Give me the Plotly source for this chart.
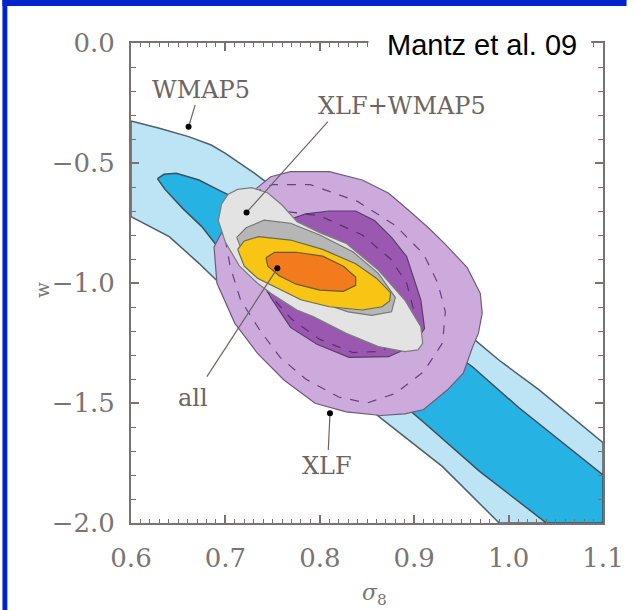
import plotly.graph_objects as go

# ---------------- data ----------------
# WMAP5 95% (light blue) and 68% (dark blue) regions
wmap95_x = [0.600, 0.630, 0.661, 0.685, 0.700, 0.731, 0.962, 0.990, 1.032, 1.100,
            1.100, 0.990, 0.930, 0.865, 0.700, 0.672, 0.6405, 0.600]
wmap95_y = [-0.325, -0.355, -0.390, -0.425, -0.460, -0.543, -1.230, -1.322, -1.444, -1.665,
            -2.000, -2.000, -1.765, -1.564, -1.025, -0.918, -0.807, -0.724]
wmap68_x = [0.628, 0.635, 0.648, 0.672, 0.6925, 0.720, 0.962, 1.011, 1.100,
            1.100, 1.040, 0.969, 0.910, 0.700, 0.689, 0.675, 0.655, 0.636]
wmap68_y = [-0.565, -0.547, -0.543, -0.571, -0.612, -0.665, -1.350, -1.520, -1.800,
            -2.000, -2.000, -1.784, -1.580, -0.880, -0.835, -0.765, -0.690, -0.610]

# XLF 95% (light purple) and 68% (dark purple)
xlf95_x = [0.731, 0.748, 0.769, 0.810, 0.845, 0.873, 0.895, 0.915, 0.932, 0.956, 0.970,
           0.972, 0.968, 0.962, 0.952, 0.935, 0.910, 0.890, 0.865, 0.828, 0.795, 0.762,
           0.734, 0.710, 0.691, 0.688, 0.700, 0.715]
xlf95_y = [-0.612, -0.557, -0.536, -0.536, -0.571, -0.626, -0.700, -0.770, -0.835, -0.935, -1.043,
           -1.126, -1.210, -1.265, -1.376, -1.446, -1.527, -1.545, -1.552, -1.537, -1.501, -1.404,
           -1.293, -1.168, -1.000, -0.850, -0.760, -0.670]
xlf68_x = [0.730, 0.745, 0.765, 0.785, 0.810, 0.838, 0.858, 0.876, 0.892, 0.907, 0.911,
           0.897, 0.873, 0.831, 0.797, 0.769, 0.748, 0.735, 0.728]
xlf68_y = [-0.860, -0.780, -0.740, -0.712, -0.700, -0.700, -0.740, -0.810, -0.890, -1.070, -1.190,
           -1.265, -1.307, -1.310, -1.255, -1.185, -1.060, -0.950, -0.870]

# dashed contours inside the XLF regions
dash_in_x = [0.730, 0.760, 0.800, 0.845, 0.875, 0.892, 0.900, 0.890, 0.865, 0.835, 0.800,
             0.770, 0.745, 0.728, 0.725, 0.730]
dash_in_y = [-0.740, -0.700, -0.720, -0.800, -0.900, -1.000, -1.120, -1.220, -1.285, -1.290, -1.235,
             -1.150, -1.040, -0.920, -0.810, -0.740]
dash_out_x = [0.700, 0.720, 0.750, 0.790, 0.840, 0.880, 0.910, 0.925, 0.933, 0.930, 0.910,
              0.880, 0.850, 0.820, 0.785, 0.758, 0.737, 0.716, 0.705, 0.700, 0.700]
dash_out_y = [-0.720, -0.640, -0.590, -0.590, -0.660, -0.760, -0.880, -1.000, -1.120, -1.250, -1.370,
              -1.460, -1.500, -1.475, -1.400, -1.310, -1.200, -1.070, -0.930, -0.820, -0.720]

# XLF+WMAP5 95% (light grey) and 68% (mid grey)
xw95_x = [0.6925, 0.696, 0.703, 0.713, 0.728, 0.745, 0.760, 0.776, 0.800, 0.828, 0.862, 0.890,
          0.907, 0.909, 0.904, 0.890, 0.862, 0.828, 0.793, 0.7757, 0.748, 0.734, 0.715, 0.700]
xw95_y = [-0.740, -0.670, -0.630, -0.610, -0.603, -0.625, -0.675, -0.745, -0.790, -0.835, -0.946, -1.071,
          -1.182, -1.251, -1.279, -1.286, -1.265, -1.210, -1.140, -1.1125, -1.043, -1.001, -0.930, -0.830]
xw68_x = [0.712, 0.722, 0.741, 0.769, 0.800, 0.835, 0.862, 0.880, 0.876, 0.855, 0.830,
          0.800, 0.770, 0.740, 0.720]
xw68_y = [-0.810, -0.770, -0.738, -0.751, -0.800, -0.870, -0.960, -1.060, -1.120, -1.135, -1.120,
          -1.080, -1.035, -0.970, -0.890]

# all 95% (yellow) and 68% (orange)
all95_x = [0.713, 0.720, 0.735, 0.769, 0.803, 0.838, 0.860, 0.875, 0.874, 0.866, 0.845,
           0.810, 0.780, 0.760, 0.734, 0.720]
all95_y = [-0.860, -0.825, -0.807, -0.821, -0.860, -0.920, -0.980, -1.040, -1.075, -1.099, -1.1125,
           -1.099, -1.070, -1.030, -0.980, -0.930]
all68_x = [0.743, 0.752, 0.775, 0.803, 0.825, 0.838, 0.838, 0.825, 0.800, 0.775, 0.757, 0.745]
all68_y = [-0.895, -0.872, -0.872, -0.888, -0.930, -0.975, -1.010, -1.035, -1.030, -1.005, -0.970, -0.930]

# labels: text, label position, pointer start, pointer end (dot)
label_text = ["WMAP5", "XLF+WMAP5", "all", "XLF"]
label_x = [0.674, 0.887, 0.666, 0.808]
label_y = [-0.196, -0.262, -1.479, -1.762]
ptr_x0 = [0.668, 0.8086, 0.6804, 0.809]
ptr_y0 = [-0.258, -0.328, -1.390, -1.696]
ptr_x1 = [0.661, 0.7224, 0.755, 0.8108]
ptr_y1 = [-0.349, -0.706, -0.939, -1.543]

x_ticks = [0.6, 0.7, 0.8, 0.9, 1.0, 1.1]
x_ticktext = ["0.6", "0.7", "0.8", "0.9", "1.0", "1.1"]
y_ticks = [0.0, -0.5, -1.0, -1.5, -2.0]
y_ticktext = ["0.0", "\u22120.5", "\u22121.0", "\u22121.5", "\u22122.0"]

# ---------------- figure ----------------
W, H = 636, 610
L, R, T, B = 131, 24, 43, 87
pw, ph = W - L - R, H - T - B


def px_x(px):
    return (px - L) / pw


def px_y(py):
    return (H - B - py) / ph


fig = go.Figure()


def region(xs, ys, fill, line, width=1.2, dash=None):
    fig.add_trace(go.Scatter(
        x=xs + xs[:1], y=ys + ys[:1], mode="lines", fill="toself" if fill else None,
        fillcolor=fill, line=dict(color=line, width=width, dash=dash),
        hoverinfo="skip", showlegend=False))


region(wmap95_x, wmap95_y, "#bce4f5", "#4d5f6a", 1.5)
region(wmap68_x, wmap68_y, "#26b3e3", "#3d4f5c", 1.5)
region(xlf95_x, xlf95_y, "#cdaadc", "#6f5a7d", 1.2)
region(xlf68_x, xlf68_y, "#9b58b0", "#5d3d6e", 1.2)
region(dash_out_x, dash_out_y, None, "#6b3f80", 1.2, "dash")
region(dash_in_x, dash_in_y, None, "#5a2f70", 1.2, "dash")
region(xw95_x, xw95_y, "#e3e3e3", "#7c7c7c", 1.2)
region(xw68_x, xw68_y, "#b6b6b6", "#777777", 1.2)
region(all95_x, all95_y, "#f8c514", "#6a6a50", 1.2)
region(all68_x, all68_y, "#f27c1c", "#6a5a40", 1.2)

for i in range(len(label_text)):
    fig.add_trace(go.Scatter(x=[ptr_x0[i], ptr_x1[i]], y=[ptr_y0[i], ptr_y1[i]], mode="lines",
                             line=dict(color="#6e6460", width=1.2), hoverinfo="skip",
                             showlegend=False))
fig.add_trace(go.Scatter(x=ptr_x1, y=ptr_y1, mode="markers",
                         marker=dict(color="black", size=6), hoverinfo="skip", showlegend=False))

for i in range(len(label_text)):
    fig.add_annotation(x=label_x[i], y=label_y[i], text=label_text[i], showarrow=False,
                       font=dict(family="DejaVu Serif", size=24, color="#6e6460"),
                       xanchor="center", yanchor="middle")

axis_col = "#7d716d"
tick_font = dict(family="DejaVu Serif", size=26, color="#7a7472")
fig.update_xaxes(range=[0.6, 1.1], tickvals=x_ticks, ticktext=x_ticktext, ticks="inside",
                 ticklen=8, tickwidth=1.5, tickcolor=axis_col, showline=True, linecolor=axis_col,
                 linewidth=2, mirror="allticks", showgrid=False, zeroline=False, tickfont=tick_font,
                 ticklabelstandoff=11,
                 minor=dict(dtick=0.01, ticks="inside", ticklen=4, tickcolor=axis_col, tickwidth=1,
                            showgrid=False))
fig.update_yaxes(range=[-2.0, 0.0], tickvals=y_ticks, ticktext=y_ticktext, ticks="inside",
                 ticklen=8, tickwidth=1.5, tickcolor=axis_col, showline=True, linecolor=axis_col,
                 linewidth=2, mirror="allticks", showgrid=False, zeroline=False, tickfont=tick_font,
                 ticklabelstandoff=9,
                 minor=dict(dtick=0.1, ticks="inside", ticklen=5, tickcolor=axis_col, tickwidth=1,
                            showgrid=False))

# axis titles
fig.add_annotation(xref="paper", yref="paper", x=px_x(40), y=px_y(290), text="w", textangle=-90,
                   showarrow=False, font=dict(family="DejaVu Serif", size=18, color="#7a7472"),
                   xanchor="center", yanchor="middle")
fig.add_annotation(xref="paper", yref="paper", x=px_x(379), y=px_y(594),
                   text="<i>σ</i><sub>8</sub>", showarrow=False,
                   font=dict(family="DejaVu Serif", size=22, color="#7a7472"),
                   xanchor="center", yanchor="middle")

# white box behind citation, citation text
fig.add_shape(type="rect", xref="paper", yref="paper", x0=px_x(373), x1=px_x(600),
              y0=px_y(58), y1=px_y(22), fillcolor="white", line=dict(width=0), layer="above")
fig.add_annotation(xref="paper", yref="paper", x=px_x(489), y=px_y(45), text="Mantz et al. 09",
                   showarrow=False, font=dict(family="Liberation Sans", size=29, color="black"),
                   xanchor="center", yanchor="middle")

# blue slide frame (top and left)
fig.add_shape(type="rect", xref="paper", yref="paper", x0=px_x(0), x1=px_x(W), y0=px_y(6),
              y1=px_y(0), fillcolor="#0022cc", line=dict(width=0), layer="above")
fig.add_shape(type="rect", xref="paper", yref="paper", x0=px_x(0), x1=px_x(5), y0=px_y(H),
              y1=px_y(0), fillcolor="#0022cc", line=dict(width=0), layer="above")

fig.update_layout(width=W, height=H, margin=dict(l=L, r=R, t=T, b=B, pad=0),
                  paper_bgcolor="white", plot_bgcolor="white", showlegend=False)

fig.write_html("out.html")
